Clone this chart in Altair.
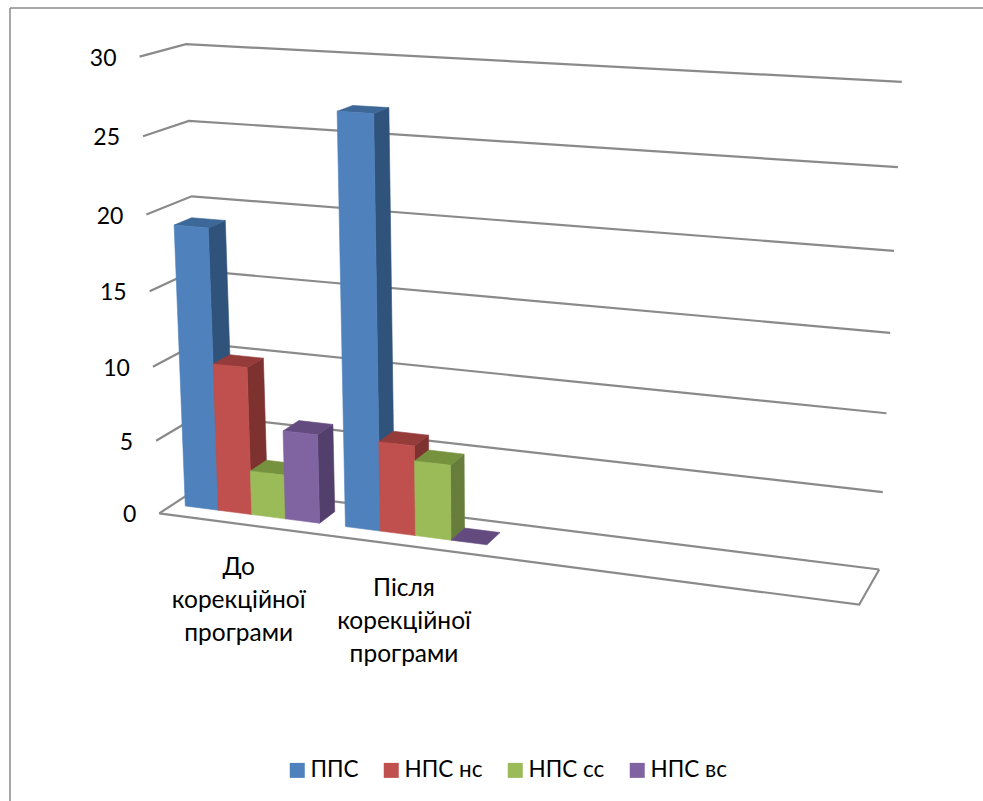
import altair as alt
import numpy as np

# Chart content
categories = ["До\nкорекційної\nпрограми", "Після\nкорекційної\nпрограми"]
series = ["ППС", "НПС нс", "НПС сс", "НПС вс"]
pps = [19, 27]
nps_ns = [10, 6]
nps_ss = [3, 5]
nps_vs = [6, 0]
series_values = [pps, nps_ns, nps_ss, nps_vs]
ticks = [0, 5, 10, 15, 20, 25, 30]

# Shades per series: front, side and top faces of a column
front_colors = ["#4F81BD", "#C0504D", "#9BBB59", "#8064A2"]
side_colors = ["#30537C", "#7E3230", "#667D3B", "#533F6B"]
top_colors = ["#3D6796", "#953B39", "#76923F", "#634B7F"]
FONT = "Lato"
GREY = "#8A8A8A"

# 3D box: u runs along the categories (0-4), v is depth (0 front, 1 back), h is the value
N_SLOTS = 4
GAP = 0.75
DEPTH = (0.31, 0.70)

# Calibration of the perspective camera: box position -> canvas pixel
calib = [
    ((0, 1, 30), (187, 44)), ((0, 1, 25), (190, 121)), ((0, 1, 20), (192, 197)),
    ((0, 1, 15), (194, 270)), ((0, 1, 10), (197, 343)), ((0, 1, 5), (199, 414)),
    ((0, 1, 0), (201, 486)),
    ((4, 1, 30), (902, 82)), ((4, 1, 25), (898, 167)), ((4, 1, 20), (894, 251)),
    ((4, 1, 15), (890, 332)), ((4, 1, 10), (886, 413)), ((4, 1, 5), (883, 492)),
    ((4, 1, 0), (879, 570)),
    ((0, 0, 30), (139, 57)), ((0, 0, 25), (143, 136)), ((0, 0, 20), (146, 215)),
    ((0, 0, 15), (148, 291)), ((0, 0, 10), (152, 367)), ((0, 0, 5), (156, 440)),
    ((0, 0, 0), (161, 513)), ((4, 0, 0), (859, 605)),
    ((1.079, 0.31, 0), (346, 527)), ((1.921, 0.31, 0), (487, 545)),
    ((0.921, 0.31, 0), (320, 523)), ((0.079, 0.31, 0), (187, 506)),
]
rows, rhs = [], []
for (u, v, h), (px, py) in calib:
    rows.append([u, v, h, 1, 0, 0, 0, 0, -px * u, -px * v, -px * h])
    rhs.append(px)
    rows.append([0, 0, 0, 0, u, v, h, 1, -py * u, -py * v, -py * h])
    rhs.append(py)
cam = np.linalg.lstsq(np.array(rows, float), np.array(rhs, float), rcond=None)[0]


def project(u, v, h):
    w = cam[8] * u + cam[9] * v + cam[10] * h + 1
    return [float((cam[0] * u + cam[1] * v + cam[2] * h + cam[3]) / w),
            float((cam[4] * u + cam[5] * v + cam[6] * h + cam[7]) / w)]


def feature(points, closed=True, **props):
    coords = [project(*p) for p in points]
    if closed:
        geom = {"type": "Polygon", "coordinates": [coords + [coords[0]]]}
    else:
        geom = {"type": "LineString", "coordinates": coords}
    return {"type": "Feature", "geometry": geom, "properties": props}


# Wall gridlines and the floor outline
frame = [feature([(0, 0, t), (0, 1, t), (N_SLOTS, 1, t)], closed=False, tick=t) for t in ticks]
frame.append(feature([(0, 0, 0), (N_SLOTS, 0, 0), (N_SLOTS, 1, 0)], closed=False, tick=0))

# Column faces, painted left to right so that nearer neighbours overlap
faces = []
bar_w = 1 / (len(series) + GAP)
v0, v1 = DEPTH
for c, cat in enumerate(categories):
    for s, name in enumerate(series):
        val = series_values[s][c]
        a = c + (GAP / 2 + s) * bar_w
        b = a + bar_w
        common = {"category": cat, "series": name, "value": val}
        if val > 0:
            faces.append(feature([(b, v0, 0), (b, v1, 0), (b, v1, val), (b, v0, val)],
                                 key=name + " side", **common))
        faces.append(feature([(a, v0, val), (b, v0, val), (b, v1, val), (a, v1, val)],
                             key=name + " top", **common))
        if val > 0:
            faces.append(feature([(a, v0, 0), (b, v0, 0), (b, v0, val), (a, v0, val)],
                                 key=name, **common))

color_domain = series + [n + " side" for n in series] + [n + " top" for n in series]
color_range = front_colors + side_colors + top_colors
color_scale = alt.Scale(domain=color_domain, range=color_range)

identity = alt.Projection(type="identity", scale=1, translate=[0, 0])

frame_layer = alt.Chart(alt.Data(values=frame)).mark_geoshape(
    filled=False, stroke=GREY, strokeWidth=2.2
).project(**identity.to_dict())

bars_layer = alt.Chart(alt.Data(values=faces)).mark_geoshape(strokeWidth=0.6).encode(
    color=alt.Color(
        "properties.key:N",
        scale=color_scale,
        legend=alt.Legend(
            title=None,
            values=series,
            orient="none",
            direction="horizontal",
            columns=4,
            legendX=286,
            legendY=759,
            symbolType="square",
            symbolSize=225,
            symbolStrokeWidth=0,
            labelFont=FONT,
            labelFontSize=22.5,
            labelColor="#000000",
            labelOffset=2,
            columnPadding=21,
            padding=0,
        ),
    ),
    stroke=alt.Stroke("properties.key:N", scale=color_scale, legend=None),
).project(**identity.to_dict())

# Value labels sit just left of the wall's tick ends
tick_rows = []
for t in ticks:
    px, py = project(0, 0, t)
    tick_rows.append({"label": str(t), "px": px - 23, "py": py + 2})
tick_layer = alt.Chart(alt.Data(values=tick_rows)).mark_text(
    align="right", baseline="middle", font=FONT, fontSize=23, color="#000000"
).encode(
    x=alt.X("px:Q", scale=None, axis=None),
    y=alt.Y("py:Q", scale=None, axis=None),
    text="label:N",
)

# Category labels hang below the floor's front edge
cat_rows = []
for c, cat in enumerate(categories):
    px, py = project(c + 0.5, 0, 0)
    cat_rows.append({"label": cat, "px": px, "py": py + 32})
cat_layer = alt.Chart(alt.Data(values=cat_rows)).mark_text(
    align="center", baseline="top", font=FONT, fontSize=24.5, color="#000000",
    lineBreak="\n", lineHeight=33,
).encode(
    x=alt.X("px:Q", scale=None, axis=None),
    y=alt.Y("py:Q", scale=None, axis=None),
    text="label:N",
)

# Outer chart border: only the top and left sides fall inside the canvas
border_top = alt.Chart(alt.Data(values=[{"k": 0}])).mark_rule(color=GREY, strokeWidth=1.5).encode(
    x=alt.value(10), x2=alt.value(983), y=alt.value(8)
)
border_left = alt.Chart(alt.Data(values=[{"k": 0}])).mark_rule(color=GREY, strokeWidth=1.5).encode(
    x=alt.value(10), y=alt.value(8), y2=alt.value(801)
)

chart = alt.layer(
    border_top, border_left, frame_layer, bars_layer, tick_layer, cat_layer
).properties(
    width=983, height=801, padding=0, autosize=alt.AutoSizeParams(type="none"),
    background="#FFFFFF",
).configure_view(stroke=None).resolve_scale(color="independent", x="independent", y="independent")

chart.save("out.html", embed_options={"renderer": "svg", "actions": False})
